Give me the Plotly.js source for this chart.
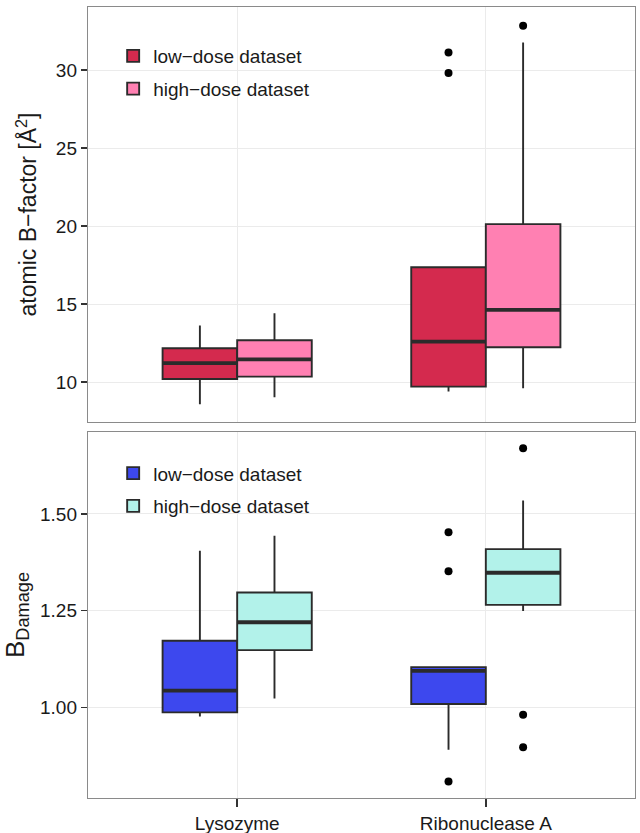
<!DOCTYPE html>
<html>
<head>
<meta charset="utf-8">
<script src="https://cdn.plot.ly/plotly-3.0.1.min.js"></script>
<style>html,body{margin:0;padding:0;background:#fff;}#chart{width:640px;height:833px;}</style>
</head>
<body>
<div id="chart"></div>
<script>
// Categories
const categories = ["Lysozyme", "Ribonuclease A"];
const seriesNames = ["low\u2212dose dataset", "high\u2212dose dataset"];

// Top panel: atomic B-factor
const bLowQ1 = [10.21, 9.72];
const bLowMedian = [11.22, 12.60];
const bLowQ3 = [12.18, 17.37];
const bLowLower = [8.59, 9.40];
const bLowUpper = [13.63, 17.37];
const bLowOutCat = [1, 1];
const bLowOutY = [31.13, 29.81];

const bHighQ1 = [10.36, 12.24];
const bHighMedian = [11.47, 14.63];
const bHighQ3 = [12.69, 20.13];
const bHighLower = [9.04, 9.62];
const bHighUpper = [14.42, 31.76];
const bHighOutCat = [1];
const bHighOutY = [32.84];

// Bottom panel: B_Damage
const dLowQ1 = [0.987, 1.0085];
const dLowMedian = [1.043, 1.094];
const dLowQ3 = [1.172, 1.104];
const dLowLower = [0.976, 0.890];
const dLowUpper = [1.405, 1.104];
const dLowOutCat = [1, 1, 1];
const dLowOutY = [1.453, 1.352, 0.808];

const dHighQ1 = [1.148, 1.265];
const dHighMedian = [1.220, 1.348];
const dHighQ3 = [1.297, 1.409];
const dHighLower = [1.023, 1.249];
const dHighUpper = [1.444, 1.535];
const dHighOutCat = [1, 1, 1];
const dHighOutY = [1.670, 0.981, 0.897];

const topTicks = [10, 15, 20, 25, 30];
const botTicks = [1.00, 1.25, 1.50];
const botTickText = ["1.00", "1.25", "1.50"];

// styling
const BOXW = 0.3;
const OFF = [-0.15, 0.15];
const colTop = ["#D42A4E", "#FF80B2"];
const colBot = ["#3D48EE", "#B2F2EA"];
const edge = "#2b2b2b";

const idx = categories.map((c, i) => i);

function boxTrace(q1, med, q3, lo, hi, k, color, xa, ya, leg, name) {
  return {
    type: "box", name: name, legend: leg, legendgroup: leg + name,
    x: idx.map(i => i + OFF[k]), q1: q1, median: med, q3: q3,
    lowerfence: lo, upperfence: hi, width: BOXW, whiskerwidth: 0,
    fillcolor: color, line: {color: edge, width: 1.9},
    boxpoints: false, xaxis: xa, yaxis: ya, hoverinfo: "skip"
  };
}
function medTrace(med, k, xa, ya) {
  const xs = [], ys = [];
  idx.forEach(i => { xs.push(i + OFF[k] - BOXW / 2, i + OFF[k] + BOXW / 2, null); ys.push(med[i], med[i], null); });
  return {type: "scatter", mode: "lines", x: xs, y: ys, line: {color: edge, width: 3.8},
    showlegend: false, xaxis: xa, yaxis: ya, hoverinfo: "skip"};
}
function outTrace(cat, y, k, xa, ya) {
  return {type: "scatter", mode: "markers", x: cat.map(c => c + OFF[k]), y: y,
    marker: {color: "#000", size: 8}, showlegend: false, xaxis: xa, yaxis: ya, hoverinfo: "skip"};
}

const data = [
  boxTrace(bLowQ1, bLowMedian, bLowQ3, bLowLower, bLowUpper, 0, colTop[0], "x", "y", "legend", seriesNames[0]),
  boxTrace(bHighQ1, bHighMedian, bHighQ3, bHighLower, bHighUpper, 1, colTop[1], "x", "y", "legend", seriesNames[1]),
  medTrace(bLowMedian, 0, "x", "y"), medTrace(bHighMedian, 1, "x", "y"),
  outTrace(bLowOutCat, bLowOutY, 0, "x", "y"), outTrace(bHighOutCat, bHighOutY, 1, "x", "y"),
  boxTrace(dLowQ1, dLowMedian, dLowQ3, dLowLower, dLowUpper, 0, colBot[0], "x2", "y2", "legend2", seriesNames[0]),
  boxTrace(dHighQ1, dHighMedian, dHighQ3, dHighLower, dHighUpper, 1, colBot[1], "x2", "y2", "legend2", seriesNames[1]),
  medTrace(dLowMedian, 0, "x2", "y2"), medTrace(dHighMedian, 1, "x2", "y2"),
  outTrace(dLowOutCat, dLowOutY, 0, "x2", "y2"), outTrace(dHighOutCat, dHighOutY, 1, "x2", "y2")
];

const FONT = "Liberation Sans, Arial, sans-serif";
const grid = "#ebebeb";
const border = "#8a8a8a";
const xbase = {range: [-0.6, 1.6], tickvals: idx, ticktext: categories, showgrid: true, gridcolor: grid,
  zeroline: false, showline: true, mirror: true, linecolor: border, linewidth: 1.2, fixedrange: true};
const ybase = {zeroline: false, showline: true, mirror: true, linecolor: border, linewidth: 1.2,
  showgrid: true, gridcolor: grid, ticks: "outside", ticklen: 6, tickwidth: 1.5, tickcolor: "#333",
  tickfont: {size: 19, color: "#1a1a1a", family: FONT}, automargin: false};

const layout = {
  width: 640, height: 833,
  margin: {l: 88, r: 5, t: 7, b: 35},
  paper_bgcolor: "#fff", plot_bgcolor: "#fff",
  font: {family: FONT, color: "#1a1a1a"},
  showlegend: true,
  xaxis: Object.assign({}, xbase, {domain: [0, 1], anchor: "y", showticklabels: false, ticks: ""}),
  yaxis: Object.assign({}, ybase, {domain: [0.4753, 1], anchor: "x", range: [7.45, 34.04], tickvals: topTicks,
    title: {text: "atomic B\u2212factor [Å<sup>2</sup>]", font: {size: 23, family: FONT, color: "#1a1a1a"}, standoff: 12}}),
  xaxis2: Object.assign({}, xbase, {domain: [0, 1], anchor: "y2", showticklabels: true, ticks: "outside", ticklen: 8,
    tickwidth: 1.5, tickcolor: "#333", tickfont: {size: 19, color: "#1a1a1a", family: FONT}}),
  yaxis2: Object.assign({}, ybase, {domain: [0, 0.4627], anchor: "x2", range: [0.7655, 1.712], tickvals: botTicks,
    ticktext: botTickText,
    title: {text: "B<sub>Damage</sub>", font: {size: 26, family: FONT, color: "#1a1a1a"}, standoff: 10}}),
  boxmode: "overlay",
  legend: {x: 0.046, y: 0.962, xanchor: "left", yanchor: "top", bgcolor: "rgba(0,0,0,0)",
    font: {size: 19, family: FONT, color: "#1a1a1a"}, traceorder: "grouped", tracegroupgap: 5},
  legend2: {x: 0.046, y: 0.4345, xanchor: "left", yanchor: "top", bgcolor: "rgba(0,0,0,0)",
    font: {size: 19, family: FONT, color: "#1a1a1a"}, traceorder: "grouped", tracegroupgap: 5}
};

Plotly.newPlot("chart", data, layout, {displayModeBar: false, staticPlot: true});
</script>
</body>
</html>
